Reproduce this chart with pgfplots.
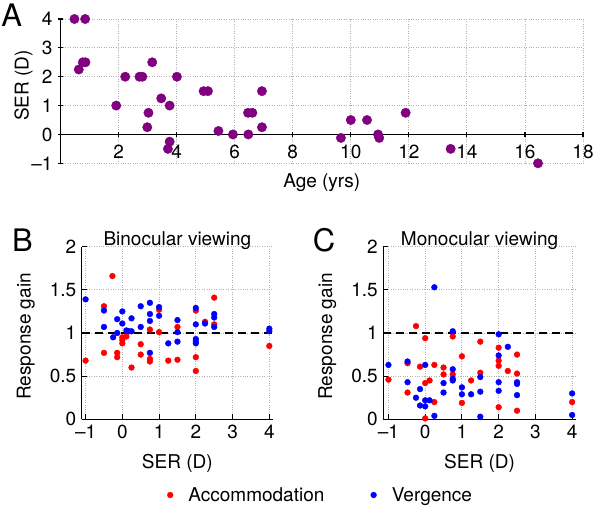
\documentclass[border=0pt]{standalone}
\usepackage{fontspec}
\setmainfont{TeX Gyre Heros}
\usepackage{pgfplots}
\pgfplotsset{compat=1.18}
\definecolor{ptpurple}{RGB}{128,0,128}
\definecolor{ptred}{RGB}{255,0,0}
\definecolor{ptblue}{RGB}{0,0,255}
\newcommand{\fs}{\fontsize{19}{22}\selectfont}
\pgfplotsset{
  myax/.style={
    scale only axis,
    tick style={line width=1.1pt,black},
    major tick length=5pt,
    tick align=inside,
    grid=major,
    major grid style={dotted,line width=0.9pt,color=gray!60},
    ticklabel style={font=\fs},
    label style={font=\fs},
    title style={font=\fs},
    legend style={font=\fs},
    clip=false,
  },
  noarrows/.style={
    every inner x axis line/.append style={-},
    every outer x axis line/.append style={-},
    every inner y axis line/.append style={-},
    every outer y axis line/.append style={-},
    axis line style={line width=1.4pt,-},
  }
}
\begin{document}
\begin{tikzpicture}[font=\fs]
\path[use as bounding box] (0,0) rectangle (596pt,507pt);
% ---------------- Panel A ----------------
\begin{axis}[myax,
  at={(60.5pt,343.7pt)}, anchor=south west,
  width=522.5pt, height=144.3pt,
  xmin=0, xmax=18, ymin=-1, ymax=4,
  axis x line=middle, axis y line=left, noarrows,
  xtick={2,4,...,18}, xticklabels={2,4,6,8,10,12,14,16,18},
  ytick={-1,0,1,2,3,4},
  yticklabels={–1,0,1,2,3,4},
  xticklabel style={yshift=-5pt},
  yticklabel style={xshift=-2pt},
  xlabel={Age (yrs)}, ylabel={SER (D)},
  xlabel style={at={(axis description cs:0.5,0)},anchor=center,yshift=-19.7pt},
  ylabel style={at={(axis description cs:0,0.54)},anchor=center,yshift=37pt},
]
\addplot[only marks, mark=*, mark size=4.7pt, color=ptpurple] coordinates {
(0.48,4) (0.85,4) (0.63,2.25) (0.77,2.5) (0.86,2.5) (1.92,1) (2.23,2)
(2.72,2) (2.82,2) (3.16,2.5) (3.03,0.75) (2.99,0.25) (3.47,1.25) (3.76,1)
(3.76,-0.25) (3.70,-0.5) (4.01,2) (4.93,1.5) (5.08,1.5) (5.44,0.12) (5.94,0)
(6.47,0) (6.46,0.75) (6.61,0.75) (6.94,1.5) (6.94,0.25) (9.66,-0.12) (10.0,0.5)
(10.56,0.5) (10.94,0) (10.98,-0.12) (11.89,0.75) (13.44,-0.5) (16.45,-1)
};
\end{axis}
% ---------------- Panel B ----------------
\begin{axis}[myax,
  at={(81.7pt,87.7pt)}, anchor=south west,
  width=191.3pt, height=172.6pt,
  xmin=-1.106, xmax=4.1, ymin=0, ymax=2,
  axis x line*=bottom, axis y line*=left, noarrows,
  xtick={-1,0,1,2,3,4}, xticklabels={–1,0,1,2,3,4},
  ytick={0,0.5,1,1.5,2}, yticklabels={0,0.5,1,1.5,2},
  xticklabel style={yshift=-2pt},
  yticklabel style={xshift=-2pt},
  xlabel={SER (D)}, ylabel={Response gain},
  xlabel style={at={(axis description cs:0.5,0)},anchor=center,yshift=-44pt},
  ylabel style={at={(axis description cs:0,0.48)},anchor=center,yshift=56pt},
  title={Binocular viewing},
  title style={at={(axis description cs:0.5,1)},anchor=center},
  legend columns=2,
  legend image code/.code={\draw[#1] plot coordinates {(0pt,0pt)}; \path (-4pt,0pt) (16pt,0pt);},
  legend style={at={(axis description cs:1.2457,-0.4386)},anchor=center,draw=none,fill=none,
    /tikz/every even column/.append style={column sep=43pt}},
]
\addplot[black,dashed,line width=1.5pt,dash pattern=on 8pt off 5pt,forget plot] coordinates {(-1.106,1) (4.1,1)};
\addplot[only marks, mark=*, mark size=2.9pt, color=ptred] coordinates {
(-1.0,0.68) (-0.5,1.31) (-0.5,0.77) (-0.27,1.66) (-0.14,0.77) (-0.14,0.72)
(0,0.95) (0,0.92) (0,0.88) (0.11,0.96) (0.25,0.60) (0.5,0.87) (0.5,0.75)
(0.75,1.04) (0.75,0.70) (0.75,0.67) (1.0,1.27) (1.0,1.01) (1.25,0.68)
(1.5,1.07) (1.5,0.69) (2.0,1.26) (2.0,0.72) (2.0,0.56) (2.25,1.13)
(2.5,1.41) (2.5,1.10) (4.0,0.85)
};
\addlegendentry{Accommodation}
\addplot[only marks, mark=*, mark size=2.9pt, color=ptblue] coordinates {
(-1.0,1.39) (-0.5,1.26) (-0.5,1.07) (-0.25,0.95) (-0.14,1.16) (-0.14,1.0)
(0,1.25) (0,1.11) (0.11,1.03) (0.18,1.02) (0.25,1.17) (0.25,1.02)
(0.5,1.07) (0.5,1.31) (0.75,1.35) (0.75,1.22) (0.75,1.14) (0.75,0.77)
(1.0,1.30) (1.0,1.20) (1.25,0.88) (1.5,1.15) (1.5,1.01) (1.5,0.90)
(2.0,1.29) (2.0,1.10) (2.0,0.93) (2.0,0.90) (2.0,0.88) (2.25,1.11)
(2.5,1.22) (2.5,1.18) (2.5,1.07) (4.0,1.05) (4.0,1.02)
};
\addlegendentry{Vergence}
\end{axis}
% ---------------- Panel C ----------------
\begin{axis}[myax,
  at={(383.3pt,87.7pt)}, anchor=south west,
  width=192.5pt, height=172.6pt,
  xmin=-1.14, xmax=4.1, ymin=0, ymax=2,
  axis x line*=bottom, axis y line*=left, noarrows,
  xtick={-1,0,1,2,3,4}, xticklabels={–1,0,1,2,3,4},
  ytick={0,0.5,1,1.5,2}, yticklabels={0,0.5,1,1.5,2},
  xticklabel style={yshift=-2pt},
  yticklabel style={xshift=-2pt},
  xlabel={SER (D)}, ylabel={Response gain},
  xlabel style={at={(axis description cs:0.5,0)},anchor=center,yshift=-44pt},
  ylabel style={at={(axis description cs:0,0.48)},anchor=center,yshift=56pt},
  title={Monocular viewing},
  title style={at={(axis description cs:0.5,1)},anchor=center},
]
\addplot[black,dashed,line width=1.5pt,dash pattern=on 8pt off 5pt] coordinates {(-1.14,1) (4.1,1)};
\addplot[only marks, mark=*, mark size=2.9pt, color=ptred] coordinates {
(-1.0,0.46) (-0.48,0.65) (-0.48,0.31) (-0.25,1.08) (-0.14,0.61) (0,0.94)
(0,0.42) (0,0.01) (0.12,0.45) (0.25,0.63) (0.25,0.20) (0.5,0.60) (0.5,0.52)
(0.75,0.96) (0.75,0.52) (1.0,0.73) (1.0,0.19) (1.25,0.45) (1.5,0.90)
(1.5,0.54) (2.0,0.83) (2.0,0.68) (2.0,0.62) (2.0,0.14) (2.25,0.56)
(2.5,0.75) (2.5,0.53) (2.5,0.10) (4.0,0.20)
};
\addplot[only marks, mark=*, mark size=2.9pt, color=ptblue] coordinates {
(-1.0,0.63) (-0.48,0.67) (-0.48,0.43) (-0.25,0.25) (-0.14,0.35) (-0.14,0.16)
(0,0.63) (0,0.22) (0,0.15) (0.12,0.22) (0.25,1.53) (0.25,0.04) (0.5,0.42)
(0.5,0.31) (0.75,1.02) (0.75,0.58) (0.75,0.47) (0.75,0.45) (1.0,0.37)
(1.0,0.29) (1.25,0.29) (1.5,0.49) (1.5,0.32) (1.5,0.03) (2.0,0.985)
(2.0,0.74) (2.0,0.43) (2.0,0.33) (2.25,0.84) (2.5,0.43) (2.5,0.41)
(2.5,0.28) (4.0,0.30) (4.0,0.05)
};
\end{axis}
% panel letters
\node[font=\fontsize{31}{34}\selectfont] at (11.7pt,492pt) {A};
\node[font=\fontsize{31}{34}\selectfont] at (22.5pt,267pt) {B};
\node[font=\fontsize{31}{34}\selectfont] at (324pt,267pt) {C};
\end{tikzpicture}
\end{document}
